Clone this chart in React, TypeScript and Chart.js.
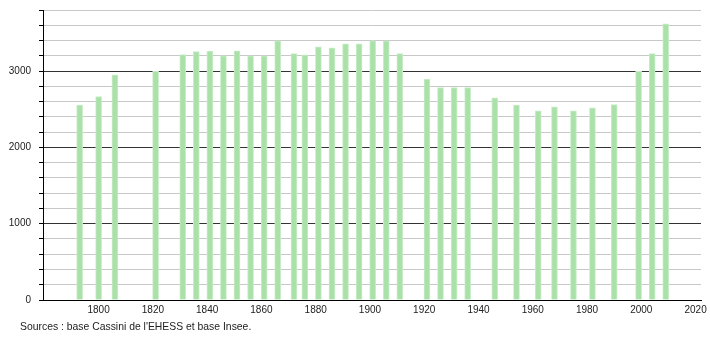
import React, { useEffect, useRef } from "react";
import { Chart, registerables } from "chart.js";

Chart.register(...registerables);

const years = [
  1793, 1800, 1806, 1821, 1831, 1836, 1841, 1846, 1851, 1856, 1861, 1866,
  1872, 1876, 1881, 1886, 1891, 1896, 1901, 1906, 1911, 1921, 1926, 1931,
  1936, 1946, 1954, 1962, 1968, 1975, 1982, 1990, 1999, 2004, 2009,
];
const population = [
  2555, 2665, 2950, 2995, 3215, 3255, 3262, 3198, 3266, 3200, 3200, 3395,
  3228, 3214, 3318, 3305, 3358, 3358, 3395, 3395, 3228, 2895, 2785, 2785,
  2785, 2650, 2555, 2480, 2532, 2480, 2518, 2562, 2995, 3228, 3620,
];
const xTickValues = [1800, 1820, 1840, 1860, 1880, 1900, 1920, 1940, 1960, 1980, 2000, 2020];
const yTickStep = 200;
const yMax = 3800;
const sourceText = "Sources : base Cassini de l'EHESS et base Insee.";

export default function App() {
  const canvasRef = useRef<HTMLCanvasElement | null>(null);

  useEffect(() => {
    const canvas = canvasRef.current;
    if (!canvas) return;
    const font = { family: "'Liberation Sans', Arial, sans-serif", size: 10 };
    const chart = new Chart(canvas, {
      type: "bar",
      data: {
        datasets: [
          {
            data: years.map((y, i) => ({ x: y, y: population[i] })),
            backgroundColor: "#a9e1a9",
            borderColor: "#c9edc9",
            borderWidth: 1,
            barThickness: 6,
            grouped: false,
          } as any,
        ],
      },
      options: {
        responsive: false,
        animation: false,
        events: [],
        layout: { padding: { top: 10, right: 9, left: 0, bottom: 0 } },
        plugins: { legend: { display: false }, tooltip: { enabled: false } },
        scales: {
          x: {
            type: "linear",
            min: 1779.5,
            max: 2022,
            offset: false,
            grid: { display: false, drawTicks: false },
            border: { display: true, color: "#000", width: 1 },
            ticks: {
              font,
              color: "#222",
              padding: 4,
              maxRotation: 0,
              autoSkip: false,
              callback: (v: any) => String(v),
            },
            afterBuildTicks: (scale: any) => {
              scale.ticks = xTickValues.map((v) => ({ value: v }));
            },
            afterFit: (scale: any) => {
              scale.height = 40;
              scale.paddingLeft = 0;
              scale.paddingRight = 0;
            },
          },
          y: {
            type: "linear",
            min: 0,
            max: yMax,
            grid: {
              color: (ctx: any) => (ctx.tick && ctx.tick.value % 1000 === 0 ? "#333" : "#c8c8c8"),
              tickColor: "#000",
              tickLength: 4,
              drawTicks: true,
            },
            border: { display: true, color: "#000", width: 1 },
            ticks: {
              stepSize: yTickStep,
              font,
              color: "#222",
              padding: 8,
              autoSkip: false,
              callback: (v: any) => (Number(v) % 1000 === 0 ? String(v) : ""),
            },
            afterFit: (scale: any) => {
              scale.width = 43;
              scale.paddingTop = 0;
              scale.paddingBottom = 0;
            },
          },
        },
      },
    });
    return () => chart.destroy();
  }, []);

  return (
    <div style={{ position: "fixed", left: 0, top: 0, width: 710, height: 340, background: "#fff" }}>
      <canvas ref={canvasRef} width={710} height={340} style={{ display: "block" }} />
      <div
        style={{
          position: "absolute",
          left: 20,
          top: 321,
          fontFamily: "'Liberation Sans', Arial, sans-serif",
          fontSize: 10.4,
          color: "#222",
          whiteSpace: "nowrap",
        }}
      >
        {sourceText}
      </div>
    </div>
  );
}
